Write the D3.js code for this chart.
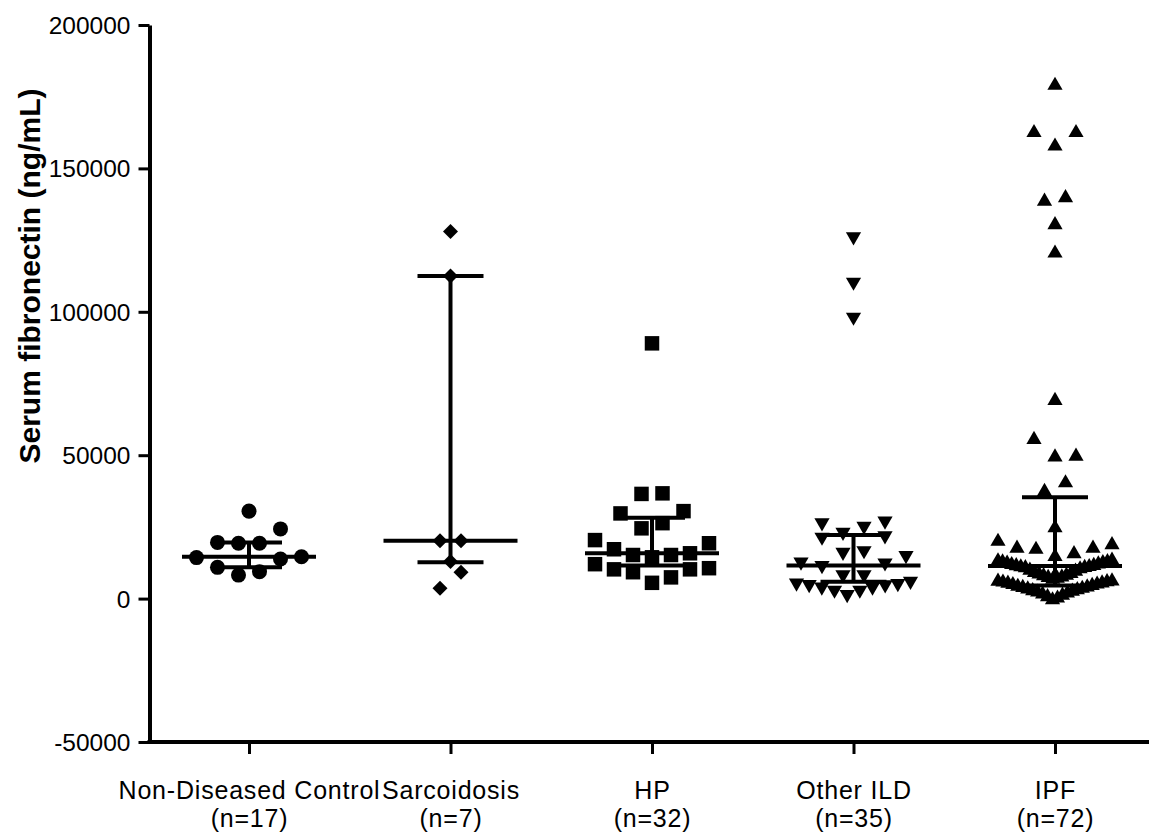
<!DOCTYPE html>
<html>
<head>
<meta charset="utf-8">
<script src="https://cdn.jsdelivr.net/npm/d3@7"></script>
<style>
  body { margin: 0; background: #fff; }
  svg { display: block; }
  text { font-family: "Liberation Sans", Arial, Helvetica, sans-serif; fill: #000; }
</style>
</head>
<body>
<svg id="chart" width="1149" height="834"></svg>
<script>
// Groups shown along the x axis and their sample sizes
const categories = ["Non-Diseased Control", "Sarcoidosis", "HP", "Other ILD", "IPF"];
const groupSizes = [17, 7, 32, 35, 72];
const yTicks = [-50000, 0, 50000, 100000, 150000, 200000];

// Serum fibronectin per subject (ng/mL)
const controlValues = [30500, 24300, 19600, 19300, 19300, 14600, 14300, 13800, 10900, 9400, 8200];
const sarcoidosisValues = [128000, 112500, 20200, 20200, 12900, 9200, 3600];
const hpValues = [89000, 36700, 36500, 30500, 29700, 26300, 24500, 20400, 19300, 17200, 15800,
                  15200, 15200, 14400, 12000, 10600, 10200, 10200, 9200, 7400, 5500];
const otherIldValues = [125400, 109600, 97400, 26300, 25700, 24500, 22400, 21200, 20700, 16000,
                        15400, 14300, 12000, 11700, 10800, 7600, 7600, 5300, 4700, 4500, 4200,
                        4100, 3300, 3300, 2200, 2200, 700];
const ipfValues = [179700, 163200, 163200, 158500, 140500, 139300, 131100, 121200, 69800, 56200,
                   50400, 50100, 41100, 38100, 25400, 20700, 19500, 18300, 18300, 17900, 16400,
                   15400, 14100, 13900, 13600, 13500, 13300, 13100, 12800, 12600, 12300, 12200,
                   11900, 11800, 11600, 11500, 11100, 10600, 10300, 9800, 9500, 9300, 8900, 8700,
                   8300, 8100, 7800, 7500, 6900, 6800, 6600, 6500, 6200, 6100, 5800, 5600, 5300,
                   5000, 4800, 4600, 4300, 4100, 3800, 3500, 3300, 3000, 2700, 2300, 1900, 1400,
                   900, 300];

// Median and interquartile error bars per group
const medians = [14600, 20200, 15800, 11500, 11400];
const lowerQuartiles = [10900, 12700, 11500, 5900, 4600];
const upperQuartiles = [19600, 112500, 28200, 22200, 35300];

const groupValues = [controlValues, sarcoidosisValues, hpValues, otherIldValues, ipfValues];
const symbolTypes = ["circle", "diamond", "square", "triangleDown", "triangleUp"];

const width = 1149, height = 834;
const axisX = 149.5, axisY = 742;
const svg = d3.select("#chart");

const y = d3.scaleLinear().domain([-50000, 200000]).range([axisY, 25]);
const x = d3.scalePoint().domain(categories).range([249, 1055]);

// ---- y axis ----
const yAxis = svg.append("g")
  .attr("transform", `translate(${axisX},0)`)
  .call(d3.axisLeft(y).tickValues(yTicks).tickFormat(d => String(d))
    .tickSize(11).tickSizeOuter(0).tickPadding(8));
yAxis.select(".domain").attr("stroke", "#000").attr("stroke-width", 4);
yAxis.selectAll(".tick line").attr("stroke", "#000").attr("stroke-width", 3);
yAxis.selectAll(".tick text").attr("font-size", 24.5).attr("dy", "0.35em");

// ---- x axis ----
const xAxis = svg.append("g")
  .attr("transform", `translate(0,${axisY})`)
  .call(d3.axisBottom(x).tickSize(12).tickSizeOuter(0).tickFormat(""));
xAxis.select(".domain").attr("d", `M${axisX - 2},0H${width}`).attr("stroke", "#000").attr("stroke-width", 4);
xAxis.selectAll(".tick line").attr("stroke", "#000").attr("stroke-width", 3);
xAxis.selectAll(".tick").each(function (d, i) {
  const tick = d3.select(this);
  tick.append("text")
    .attr("text-anchor", "middle")
    .attr("font-size", 25)
    .attr("letter-spacing", 0.8)
    .attr("y", 57)
    .text(d);
  tick.append("text")
    .attr("text-anchor", "middle")
    .attr("font-size", 25)
    .attr("letter-spacing", 0.8)
    .attr("y", 85)
    .text(`(n=${groupSizes[i]})`);
});

// ---- y axis title ----
svg.append("text")
  .attr("transform", `translate(40,276) rotate(-90)`)
  .attr("text-anchor", "middle")
  .attr("font-size", 30)
  .attr("font-weight", "bold")
  .text("Serum fibronectin (ng/mL)");

// ---- scatter layout: points grouped into horizontal rows, smallest value in the middle ----
function columnLayout(values, cx) {
  const binPx = 19.5, maxStep = 21, maxWidth = 114;
  const pts = values.map(v => ({ v, py: y(v) })).sort((a, b) => a.v - b.v);
  const bins = [];
  let cur = null;
  for (const p of pts) {
    if (!cur || cur.top - p.py >= binPx) { cur = { top: p.py, items: [] }; bins.push(cur); }
    cur.items.push(p);
  }
  for (const b of bins) {
    const k = b.items.length;
    const step = k > 1 ? Math.min(maxStep, maxWidth / (k - 1)) : 0;
    const slots = [];
    if (k % 2) {
      slots.push(0);
      for (let i = 1; slots.length < k; i++) { slots.push(i); slots.push(-i); }
    } else {
      for (let i = 0; slots.length < k; i++) { slots.push(-(i + 0.5)); slots.push(i + 0.5); }
    }
    b.items.forEach((p, i) => { p.px = cx + slots[i] * step; });
  }
  return pts;
}

const triangleSize = 100;
const triangleHeight = Math.sqrt(triangleSize * 4 / Math.sqrt(3)) * Math.sqrt(3) / 2;

function symbolPath(type) {
  switch (type) {
    case "circle": return d3.symbol(d3.symbolCircle, 177)();
    case "square": return d3.symbol(d3.symbolSquare, 210)();
    case "diamond": return d3.symbol(d3.symbolSquare, 112)();
    default: return d3.symbol(d3.symbolTriangle, triangleSize)();
  }
}
function symbolRotation(type) {
  if (type === "diamond") return 45;
  if (type === "triangleDown") return 180;
  return 0;
}
// triangles are centred on their bounding box rather than their centroid
function symbolShift(type) {
  if (type === "triangleUp") return triangleHeight / 6;
  if (type === "triangleDown") return -triangleHeight / 6;
  return 0;
}

const halfMedian = 67, halfCap = 33;

categories.forEach((cat, gi) => {
  const cx = x(cat);
  const g = svg.append("g").attr("class", "group");

  // error bar (interquartile range)
  g.append("line")
    .attr("x1", cx).attr("x2", cx)
    .attr("y1", y(lowerQuartiles[gi])).attr("y2", y(upperQuartiles[gi]))
    .attr("stroke", "#000").attr("stroke-width", 4);
  [lowerQuartiles[gi], upperQuartiles[gi]].forEach(q => {
    g.append("line")
      .attr("x1", cx - halfCap).attr("x2", cx + halfCap)
      .attr("y1", y(q)).attr("y2", y(q))
      .attr("stroke", "#000").attr("stroke-width", 4);
  });
  // median
  g.append("line")
    .attr("x1", cx - halfMedian).attr("x2", cx + halfMedian)
    .attr("y1", y(medians[gi])).attr("y2", y(medians[gi]))
    .attr("stroke", "#000").attr("stroke-width", 4);

  // individual points
  const type = symbolTypes[gi];
  const pts = columnLayout(groupValues[gi], cx);
  const path = symbolPath(type);
  const rot = symbolRotation(type);
  const shift = symbolShift(type);
  g.selectAll("path.pt").data(pts).join("path")
    .attr("class", "pt")
    .attr("d", path)
    .attr("fill", "#000")
    .attr("transform", d => `translate(${d.px},${d.py + shift}) rotate(${rot})`);
});
</script>
</body>
</html>
